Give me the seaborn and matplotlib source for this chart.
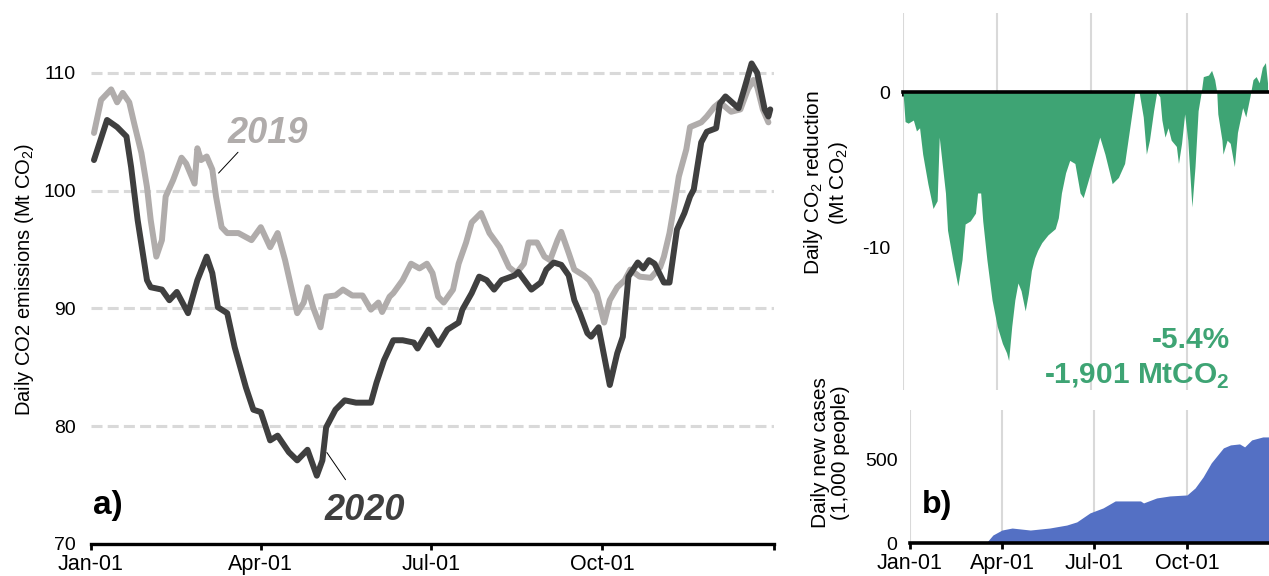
import numpy as np
import pandas as pd
import matplotlib
matplotlib.use("Agg")
import matplotlib.pyplot as plt
import seaborn as sns

# panel a: daily CO2 emissions (Mt CO2), x = day of year
days_2019 = [1.6, 5.4, 10.8, 14, 17, 20.5, 23, 27, 30, 32, 35, 38, 40, 44, 48.5, 51, 55.5, 57, 59, 62,
             65, 67, 70, 73, 79, 86, 91, 96, 100, 104, 108, 110.5, 114, 116, 119, 123, 126, 131, 135, 140,
             145.5, 150, 154, 156, 160, 162, 167, 171.5, 176, 180, 183, 186, 189, 194, 197, 201, 204, 209,
             213.5, 219, 224, 228, 232, 234.5, 239, 243, 246, 250, 252, 256, 259, 264, 267, 271, 275, 278,
             282, 286, 289, 294, 300, 305, 307, 310, 313, 315, 319, 321, 327, 330, 334, 337, 343, 348, 352,
             355, 357, 360, 363]
co2_2019 = [104.9, 107.7, 108.6, 107.5, 108.3, 107.5, 105.8, 103.2, 100.3, 97.5, 94.4, 95.8, 99.5, 100.9,
            102.8, 102.3, 100.6, 103.6, 102.6, 102.9, 101.8, 99.5, 96.9, 96.4, 96.4, 95.8, 96.9, 95.2, 96.4,
            94.1, 91.3, 89.6, 90.5, 91.8, 90.1, 88.4, 91.0, 91.1, 91.6, 91.1, 91.1, 89.9, 90.5, 89.7, 91.0,
            91.3, 92.4, 93.8, 93.4, 93.8, 93.0, 91.0, 90.5, 91.6, 93.8, 95.6, 97.3, 98.1, 96.4, 95.2, 93.5,
            93.0, 93.8, 95.6, 95.6, 94.4, 94.1, 95.8, 96.5, 94.7, 93.3, 92.8, 92.4, 91.3, 88.8, 90.7, 91.8,
            92.4, 93.3, 92.7, 92.6, 93.5, 94.4, 96.4, 99.2, 101.2, 103.5, 105.4, 105.8, 106.3, 107.1, 107.5,
            106.7, 106.9, 108.6, 109.4, 108.8, 106.9, 105.8]

days_2020 = [1.6, 8.6, 14, 19, 21.5, 25, 30, 32, 38, 42, 46, 52, 57, 62, 65, 68, 73, 77, 83, 87, 91, 96,
             100, 106, 110.5, 116, 121, 124, 126, 131, 136, 142, 150, 153, 157, 162, 167, 173, 175, 181, 186,
             191, 197, 199, 204, 208, 212, 216, 220, 227, 229, 236, 241, 244, 248, 252, 256, 259, 262, 266,
             268, 272, 278, 282, 285, 288, 293, 296, 299, 302, 307, 310, 314, 318, 321, 323, 327, 330, 335,
             337, 340, 347, 350, 354, 357, 361, 363, 364]
co2_2020 = [102.6, 106.0, 105.4, 104.6, 102.0, 97.5, 92.4, 91.8, 91.6, 90.7, 91.4, 89.6, 92.4, 94.4, 93.0,
            90.1, 89.6, 86.7, 83.3, 81.4, 81.2, 78.8, 79.2, 77.8, 77.1, 78.0, 75.8, 77.1, 79.9, 81.4, 82.2,
            82.0, 82.0, 83.7, 85.6, 87.3, 87.3, 87.1, 86.6, 88.2, 86.9, 88.2, 88.8, 89.9, 91.3, 92.7, 92.4,
            91.6, 92.4, 92.8, 93.1, 91.6, 92.2, 93.3, 93.9, 93.7, 92.8, 90.7, 89.6, 87.9, 87.6, 88.4, 83.5,
            86.2, 87.6, 92.7, 93.9, 93.4, 94.1, 93.8, 92.2, 92.2, 96.7, 98.1, 99.5, 100.1, 104.1, 105.0,
            105.3, 107.4, 108.0, 107.0, 108.6, 110.8, 110.0, 106.9, 106.3, 106.9]

# panel b (top): daily CO2 reduction (Mt CO2)
days_diff = [0, 2, 5, 10, 13, 16, 19, 24, 29, 33, 35, 41, 43, 48, 53, 57, 60, 65, 70, 72, 75, 77, 81, 86,
             91, 96, 100, 102, 105, 108, 111, 114, 118, 121, 124, 127, 130, 134, 140, 147, 150, 153, 157,
             161, 166, 171, 174, 181, 190, 195, 202, 208, 214, 219, 224, 226, 228, 232, 235, 238, 242, 245,
             248, 250, 253, 256, 259, 264, 266, 269, 272, 275, 279, 282, 285, 288, 290, 295, 298, 301, 303,
             304, 308, 309, 313, 316, 320, 323, 328, 331, 335, 338, 341, 344, 347, 350, 352]
co2_diff = [0, -1.9, -2.0, -1.8, -2.5, -2.3, -4.0, -5.9, -7.5, -7.0, -2.9, -6.5, -8.9, -10.8, -12.5, -10.8,
            -8.5, -8.3, -7.8, -6.5, -6.5, -8.3, -10.8, -13.4, -15.1, -16.2, -16.8, -17.3, -15.1, -13.4, -12.3,
            -12.8, -14.1, -13.0, -11.5, -10.7, -10.2, -9.7, -9.2, -8.8, -8.1, -6.5, -5.2, -4.4, -4.6, -6.5,
            -6.8, -5.2, -2.9, -4.0, -5.9, -5.5, -4.6, -2.3, 0.0, 0.1, 0.0, -1.6, -4.0, -3.1, -1.2, 0.0, -0.3,
            -1.8, -2.9, -2.3, -3.1, -3.5, -4.6, -3.3, -1.4, -3.1, -7.4, -4.8, -1.2, 0.0, 1.0, 1.1, 1.4, 0.8,
            0.0, -1.4, -3.1, -4.0, -3.1, -3.3, -4.8, -2.6, -1.0, -1.6, -0.3, 0.8, 1.0, 0.6, 1.6, 1.9, 0.6]

# panel b (bottom): daily new cases (1,000 people)
days_cases = [0, 50, 76, 82, 91, 101, 119, 138, 155, 165, 178, 191, 203, 228, 231, 244, 257, 274, 282,
              290, 298, 310, 317, 326, 331, 338, 349, 355]
new_cases = [0, 2, 5, 48, 78, 90, 78, 90, 108, 127, 181, 211, 253, 253, 241, 271, 283, 289, 331, 398, 482,
             572, 590, 596, 578, 620, 638, 638]

tick_dates = ["2020-01-01", "2020-04-01", "2020-07-01", "2020-10-01"]
tick_labels = ["Jan-01", "Apr-01", "Jul-01", "Oct-01"]

C2019 = "#b0acab"
C2020 = "#3f3f3f"
GREEN = "#3ea474"
BLUE = "#5470c4"
GRID = "#d9d9d9"


def to_dates(days):
    return pd.Timestamp("2020-01-01") + pd.to_timedelta(np.asarray(days, dtype=float), unit="D")


sns.set_theme(style="white")
plt.rcParams["font.family"] = ["Liberation Sans", "DejaVu Sans"]
plt.rcParams["mathtext.fontset"] = "custom"
plt.rcParams["mathtext.rm"] = "Liberation Sans"
plt.rcParams["mathtext.bf"] = "Liberation Sans:bold"
plt.rcParams["axes.unicode_minus"] = False
plt.rcParams["text.color"] = "black"
plt.rcParams["axes.labelcolor"] = "black"
plt.rcParams["xtick.color"] = "black"
plt.rcParams["ytick.color"] = "black"

W, H = 1269, 576
fig = plt.figure(figsize=(W / 100, H / 100), dpi=100)

x0, x1 = pd.Timestamp("2020-01-01"), pd.Timestamp("2021-01-01")

# ---- panel a ----
ax_a = fig.add_axes([91 / W, 1 - 544 / H, (774 - 91) / W, (544 - 14) / H])
sns.lineplot(x=to_dates(days_2019), y=co2_2019, ax=ax_a, color=C2019, lw=4.3, zorder=3)
sns.lineplot(x=to_dates(days_2020), y=co2_2020, ax=ax_a, color=C2020, lw=4.3, zorder=4)
ax_a.set_xlim(x0, x1)
ax_a.set_ylim(70, 115)
ax_a.set_yticks([70, 80, 90, 100, 110])
ax_a.set_yticklabels(["70", "80", "90", "100", "110"])
ax_a.set_xticks(pd.to_datetime(tick_dates + ["2021-01-01"]))
ax_a.set_xticklabels(tick_labels + [""])
ax_a.yaxis.grid(True, color=GRID, lw=2.2, linestyle=(0, (3.6, 1.7)))
ax_a.set_axisbelow(True)
for s in ["top", "right", "left"]:
    ax_a.spines[s].set_visible(False)
ax_a.spines["bottom"].set_color("black")
ax_a.spines["bottom"].set_linewidth(2.4)
ax_a.tick_params(axis="x", length=4, width=2, labelsize=15.5, pad=3, bottom=True)
ax_a.tick_params(axis="y", length=0, labelsize=14, pad=11)
ax_a.set_xlabel("")
ax_a.set_ylabel("Daily CO2 emissions (Mt CO$_2$)", fontsize=14.5)
ax_a.yaxis.set_label_coords(-0.081, 0.5)

ax_a.text(0.259, 0.757, "2019", transform=ax_a.transAxes, ha="center", va="baseline",
          fontsize=26, fontweight="bold", fontstyle="italic", color=C2019)
ax_a.annotate("", xy=(0.184, 0.696), xytext=(0.218, 0.743), xycoords="axes fraction",
              arrowprops=dict(arrowstyle="-", color="black", lw=0.7))
ax_a.text(0.401, 0.045, "2020", transform=ax_a.transAxes, ha="center", va="baseline",
          fontsize=26, fontweight="bold", fontstyle="italic", color=C2020)
ax_a.annotate("", xy=(0.343, 0.177), xytext=(0.375, 0.117), xycoords="axes fraction",
              arrowprops=dict(arrowstyle="-", color="black", lw=0.7))
ax_a.text(0.003, 0.057, "a)", transform=ax_a.transAxes, ha="left", va="baseline",
          fontsize=24, fontweight="bold", color="black")

# ---- panel b top: reduction ----
ax_r = fig.add_axes([903 / W, 1 - 390 / H, (1282 - 903) / W, (390 - 13) / H])
ax_r.fill_between(to_dates(days_diff), co2_diff, 0, color=GREEN, lw=0, zorder=2)
ax_r.set_xlim(x0, x1)
ax_r.set_ylim(-19.2, 5.1)
ax_r.set_yticks([0, -10])
ax_r.set_yticklabels(["0", "-10"])
ax_r.set_xticks(pd.to_datetime(tick_dates))
ax_r.xaxis.grid(True, color=GRID, lw=1.5)
ax_r.set_axisbelow(True)
for s in ["top", "right", "left"]:
    ax_r.spines[s].set_visible(False)
ax_r.spines["bottom"].set_position(("data", 0))
ax_r.spines["bottom"].set_color("black")
ax_r.spines["bottom"].set_linewidth(2.6)
ax_r.tick_params(axis="x", length=3, width=2.2, labelbottom=False, bottom=True)
ax_r.tick_params(axis="y", length=0, labelsize=14, pad=9)
ax_r.set_ylabel("Daily CO$_2$ reduction\n(Mt CO$_2$)", fontsize=15, linespacing=1.1)
ax_r.yaxis.set_label_coords(-0.14, 0.55)

fig.text(1230 / W, 1 - 348 / H, "-5.4%", ha="right", va="baseline",
         fontsize=21.5, fontweight="bold", color=GREEN)
fig.text(1230 / W, 1 - 384 / H, r"-1,901 MtCO$_\mathbf{2}$", ha="right", va="baseline",
         fontsize=21.5, fontweight="bold", color=GREEN)

# ---- panel b bottom: cases ----
ax_c = fig.add_axes([910 / W, 1 - 543 / H, (1280 - 910) / W, (543 - 410) / H])
ax_c.fill_between(to_dates(days_cases), new_cases, 0, color=BLUE, lw=0, zorder=2)
ax_c.set_xlim(x0, x1)
ax_c.set_ylim(0, 800)
ax_c.set_yticks([0, 500])
ax_c.set_yticklabels(["0", "500"])
ax_c.set_xticks(pd.to_datetime(tick_dates))
ax_c.set_xticklabels(tick_labels)
ax_c.xaxis.grid(True, color=GRID, lw=1.5)
ax_c.set_axisbelow(True)
for s in ["top", "right", "left"]:
    ax_c.spines[s].set_visible(False)
ax_c.spines["bottom"].set_color("black")
ax_c.spines["bottom"].set_linewidth(2.6)
ax_c.tick_params(axis="x", length=4, width=2, labelsize=15.5, pad=3, bottom=True)
ax_c.tick_params(axis="y", length=0, labelsize=14, pad=9)
ax_c.set_ylabel("Daily new cases\n(1,000 people)", fontsize=15, linespacing=1.1)
ax_c.yaxis.set_label_coords(-0.162, 0.68)
ax_c.text(0.032, 0.226, "b)", transform=ax_c.transAxes, ha="left", va="baseline",
          fontsize=23, fontweight="bold", color="black")

fig.savefig("out.png", dpi=100)
